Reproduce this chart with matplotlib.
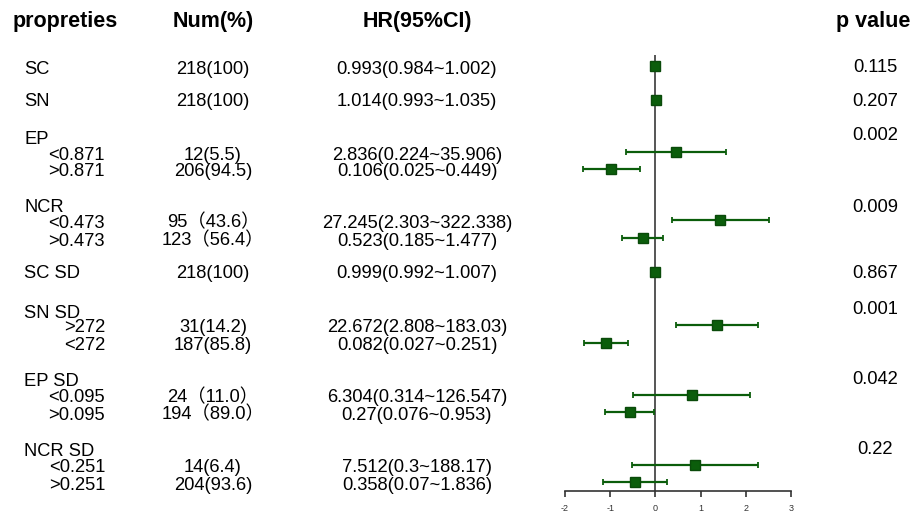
import numpy as np
import matplotlib
matplotlib.use("Agg")
import matplotlib.pyplot as plt

plt.rcParams['font.family'] = ['Liberation Sans', 'Noto Sans CJK SC', 'DejaVu Sans']

# data rows (one per plotted estimate)
row_labels = ["SC", "SN", "<0.871", ">0.871", "<0.473", ">0.473", "SC SD",
              ">272", "<272", "<0.095", ">0.095", "<0.251", ">0.251"]
num_text = ["218(100)", "218(100)", "12(5.5)", "206(94.5)", "95（43.6）", "123（56.4）",
            "218(100)", "31(14.2)", "187(85.8)", "24（11.0）", "194（89.0）", "14(6.4)", "204(93.6)"]
hr = [0.993, 1.014, 2.836, 0.106, 27.245, 0.523, 0.999, 22.672, 0.082, 6.304, 0.27, 7.512, 0.358]
ci_low = [0.984, 0.993, 0.224, 0.025, 2.303, 0.185, 0.992, 2.808, 0.027, 0.314, 0.076, 0.3, 0.07]
ci_high = [1.002, 1.035, 35.906, 0.449, 322.338, 1.477, 1.007, 183.03, 0.251, 126.547, 0.953, 188.17, 1.836]
is_sub = [False, False, True, True, True, True, False, True, True, True, True, True, True]

group_labels = ["EP", "NCR", "SN SD", "EP SD", "NCR SD"]
p_values = ["0.115", "0.207", "0.002", "0.009", "0.867", "0.001", "0.042", "0.22"]
x_ticks = [-2, -1, 0, 1, 2, 3]

# layout (pixel rows, top = 0)
row_y = [66, 100, 152, 169, 220, 238, 272, 325, 343, 395, 412, 465, 482]
text_y = [68, 100, 153, 170, 221, 239, 272, 326, 344, 396, 413, 466, 484]
group_y = [137, 205, 311, 380, 450]
p_y = [65, 99, 133, 206, 272, 307, 378, 447]

W, H = 916, 514
fig = plt.figure(figsize=(W / 100, H / 100), dpi=100)

# text layer in pixel coordinates
tax = fig.add_axes([0, 0, 1, 1])
tax.set_xlim(0, W)
tax.set_ylim(H, 0)
tax.axis('off')

hdr = dict(fontsize=15.5, fontweight='bold', va='center_baseline')
tax.text(13, 19, "propreties", ha='left', **hdr)
tax.text(213, 19, "Num(%)", ha='center', **hdr)
tax.text(417, 19, "HR(95%CI)", ha='center', **hdr)
tax.text(873, 19, "p value", ha='center', **hdr)

fs = 13.2
va = 'center_baseline'
for lab, y in zip(group_labels, group_y):
    tax.text(24, y, lab, ha='left', va=va, fontsize=fs)
for i, y in enumerate(text_y):
    if is_sub[i]:
        tax.text(105, y, row_labels[i], ha='right', va=va, fontsize=fs)
    else:
        tax.text(24, y, row_labels[i], ha='left', va=va, fontsize=fs)
    tax.text(213, y, num_text[i], ha='center', va=va, fontsize=fs)
    tax.text(417, y, f"{hr[i]}({ci_low[i]}~{ci_high[i]})", ha='center', va=va, fontsize=fs)
for p, y in zip(p_values, p_y):
    tax.text(875, y, p, ha='center', va=va, fontsize=fs)

# forest plot
top, bottom = 55, 491
ax = fig.add_axes([565 / W, (H - bottom) / H, 226 / W, (bottom - top) / H])
ax.set_xlim(-2, 3)
ax.set_ylim(bottom, top)
ax.patch.set_alpha(0)

x = np.log10(hr)
lo = np.log10(ci_low)
hi = np.log10(ci_high)
green = '#0b5d0b'
ax.axvline(0, color='#555555', lw=1.4, zorder=1)
ax.errorbar(x, row_y, xerr=[x - lo, hi - x], fmt='s', color=green, ms=6.5,
            mec='#0a4a0a', elinewidth=1.6, capsize=2, capthick=1.3, zorder=3)

for s in ['top', 'right', 'left']:
    ax.spines[s].set_visible(False)
ax.spines['bottom'].set_color('#333333')
ax.spines['bottom'].set_linewidth(1.2)
ax.set_yticks([])
ax.set_xticks(x_ticks)
ax.set_xticklabels([str(t) for t in x_ticks])
ax.tick_params(axis='x', length=4.5, width=1.2, color='#333333', labelsize=6.5,
               labelcolor='#333333', pad=5)

fig.savefig("out.png", dpi=100)
